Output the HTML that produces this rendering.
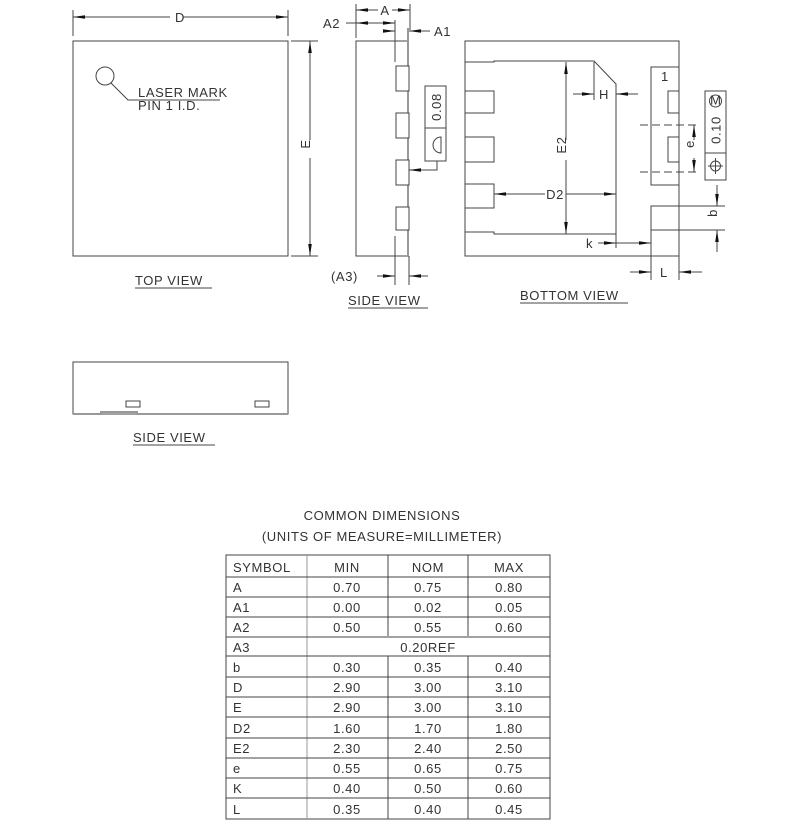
<!DOCTYPE html>
<html><head><meta charset="utf-8"><style>
html,body{margin:0;padding:0;background:#fff}
svg{display:block}
text{font-family:"Liberation Sans",sans-serif;fill:#333;font-size:13px;letter-spacing:0.6px}
</style></head><body>
<svg width="808" height="829" viewBox="0 0 808 829" xmlns="http://www.w3.org/2000/svg">
<defs>
<marker id="ar" markerWidth="12" markerHeight="6" refX="12" refY="3" orient="auto" markerUnits="userSpaceOnUse"><path d="M0,1.2 L12,3 L0,4.8z" fill="#111"/></marker>
</defs>
<g stroke="#444" stroke-width="1" fill="none">
<rect x="73" y="41" width="215" height="215"/>
<line x1="73" y1="10" x2="73" y2="36"/><line x1="288" y1="10" x2="288" y2="36"/>
<line x1="170" y1="17" x2="73" y2="17" marker-end="url(#ar)"/>
<line x1="183" y1="17" x2="288" y2="17" marker-end="url(#ar)"/>
<line x1="291" y1="41" x2="318" y2="41"/><line x1="291" y1="256" x2="318" y2="256"/>
<line x1="310" y1="140" x2="310" y2="41" marker-end="url(#ar)"/>
<line x1="310" y1="158" x2="310" y2="256" marker-end="url(#ar)"/>
<circle cx="105" cy="76" r="9"/>
<polyline points="111,83 128,100 220,100"/>
<line x1="135" y1="288" x2="212" y2="288"/>

<rect x="356" y="41" width="52" height="215"/>
<line x1="408" y1="28" x2="408" y2="256" stroke="#999" stroke-width="2"/>
<rect x="396" y="66" width="13" height="25" fill="#fff"/>
<rect x="396" y="113" width="13" height="25" fill="#fff"/>
<rect x="396" y="160" width="13" height="25" fill="#fff"/>
<rect x="396" y="207" width="13" height="23" fill="#fff"/>
<line x1="356" y1="4" x2="356" y2="38"/><line x1="410" y1="4" x2="410" y2="30"/>
<line x1="378" y1="10" x2="356" y2="10" marker-end="url(#ar)"/>
<line x1="392" y1="10" x2="410" y2="10" marker-end="url(#ar)"/>
<line x1="346" y1="23" x2="356" y2="23"/>
<line x1="375" y1="23" x2="356" y2="23" marker-end="url(#ar)"/>
<line x1="375" y1="23" x2="395" y2="23" marker-end="url(#ar)"/>
<line x1="395" y1="20" x2="395" y2="62"/>
<line x1="395" y1="31" x2="384" y2="31"/>
<line x1="384" y1="31" x2="395" y2="31" marker-end="url(#ar)"/>
<line x1="430" y1="31" x2="409" y2="31" marker-end="url(#ar)"/>
<rect x="425" y="86" width="21" height="75"/><line x1="425" y1="128" x2="446" y2="128"/>
<path d="M441,137 A8,8 0 0 0 441,153 Z"/>
<polyline points="437,161 437,170 420,170"/>
<line x1="420" y1="170" x2="409" y2="170" marker-end="url(#ar)"/>
<line x1="395" y1="236" x2="395" y2="285"/><line x1="409" y1="256" x2="409" y2="285"/>
<line x1="377" y1="276" x2="395" y2="276" marker-end="url(#ar)"/>
<line x1="428" y1="276" x2="409" y2="276" marker-end="url(#ar)"/>
<line x1="348" y1="308" x2="428" y2="308"/>

<rect x="465" y="41" width="214" height="215"/>
<polyline points="465,62 494,62 494,61 594,61 616,84 616,234 494,234 494,232 465,232"/>
<rect x="465" y="91" width="29" height="22"/>
<rect x="465" y="137" width="29" height="25"/>
<rect x="465" y="184" width="29" height="24"/>
<rect x="651" y="67" width="28" height="118"/>
<polyline points="679,91 668,91 668,113 679,113"/>
<polyline points="679,137 668,137 668,162 679,162"/>
<rect x="651" y="206" width="28" height="24"/>
<line x1="566" y1="140" x2="566" y2="62" marker-end="url(#ar)"/>
<line x1="566" y1="160" x2="566" y2="234" marker-end="url(#ar)"/>
<line x1="545" y1="194" x2="494" y2="194" marker-end="url(#ar)"/>
<line x1="566" y1="194" x2="616" y2="194" marker-end="url(#ar)"/>
<line x1="594" y1="62" x2="594" y2="100"/>
<line x1="573" y1="94" x2="594" y2="94" marker-end="url(#ar)"/>
<line x1="638" y1="94" x2="616" y2="94" marker-end="url(#ar)"/>
<line x1="616" y1="234" x2="616" y2="248"/>
<line x1="651" y1="230" x2="651" y2="280"/>
<line x1="598" y1="243" x2="616" y2="243" marker-end="url(#ar)"/>
<line x1="616" y1="243" x2="629" y2="243"/>
<line x1="629" y1="243" x2="651" y2="243" marker-end="url(#ar)"/>
<line x1="679" y1="256" x2="679" y2="280"/>
<line x1="630" y1="272" x2="651" y2="272" marker-end="url(#ar)"/>
<line x1="702" y1="272" x2="679" y2="272" marker-end="url(#ar)"/>
<line x1="640" y1="125" x2="697" y2="125" stroke-dasharray="8,4"/>
<line x1="640" y1="172" x2="697" y2="172" stroke-dasharray="8,4"/>
<line x1="694" y1="140" x2="694" y2="125" marker-end="url(#ar)"/>
<line x1="694" y1="158" x2="694" y2="172" marker-end="url(#ar)"/>
<rect x="705" y="91" width="21" height="89"/><line x1="705" y1="153" x2="726" y2="153"/>
<circle cx="715.5" cy="166" r="5"/><line x1="715.5" y1="158" x2="715.5" y2="174"/><line x1="708" y1="166" x2="723" y2="166"/>
<circle cx="715.5" cy="101" r="6"/>
<line x1="679" y1="206" x2="725" y2="206"/><line x1="679" y1="230" x2="725" y2="230"/>
<line x1="717" y1="185" x2="717" y2="206" marker-end="url(#ar)"/>
<line x1="717" y1="252" x2="717" y2="230" marker-end="url(#ar)"/>
<line x1="520" y1="303" x2="628" y2="303"/>

<rect x="73" y="362" width="215" height="52"/>
<polyline points="73,414 101,414 101,412 137,412 137,414 288,414" stroke="#999" stroke-width="2"/>
<rect x="126" y="401" width="14" height="6"/>
<rect x="255" y="401" width="14" height="6"/>
<line x1="133" y1="445" x2="215" y2="445"/>

<rect x="226" y="555" width="324" height="264"/>
<line x1="307" y1="555" x2="307" y2="819" stroke="#999"/>
<line x1="388" y1="555" x2="388" y2="636"/>
<line x1="388" y1="656" x2="388" y2="819"/>
<line x1="468" y1="555" x2="468" y2="636"/>
<line x1="468" y1="656" x2="468" y2="819"/>
<g>
<line x1="226" y1="577" x2="550" y2="577"/><line x1="226" y1="597" x2="550" y2="597"/>
<line x1="226" y1="617" x2="550" y2="617"/><line x1="226" y1="637" x2="550" y2="637"/>
<line x1="226" y1="656" x2="550" y2="656"/><line x1="226" y1="677" x2="550" y2="677"/>
<line x1="226" y1="697" x2="550" y2="697"/><line x1="226" y1="717" x2="550" y2="717"/>
<line x1="226" y1="738" x2="550" y2="738"/><line x1="226" y1="758" x2="550" y2="758"/>
<line x1="226" y1="778" x2="550" y2="778"/><line x1="226" y1="798" x2="550" y2="798"/>
</g>
</g>

<g>
<text x="180" y="22" text-anchor="middle" font-size="14">D</text>
<text x="315" y="149" transform="rotate(-90 310 149)" font-size="14" text-anchor="middle">E</text>
<text x="138" y="97" font-size="12">LASER MARK</text>
<text x="138" y="110" font-size="12">PIN 1 I.D.</text>
<text x="135" y="285" font-size="13">TOP  VIEW</text>
<text x="385" y="15" text-anchor="middle" font-size="14">A</text>
<text x="323" y="28" font-size="14">A2</text>
<text x="434" y="36" font-size="14">A1</text>
<text x="436" y="107" transform="rotate(-90 436 107)" text-anchor="middle" font-size="14" dy="5">0.08</text>
<text x="331" y="281" font-size="14">(A3)</text>
<text x="348" y="305" font-size="13">SIDE  VIEW</text>
<text x="571" y="150" transform="rotate(-90 566 150)" text-anchor="middle" font-size="14">E2</text>
<text x="555" y="199" text-anchor="middle" font-size="14">D2</text>
<text x="599" y="99" font-size="14">H</text>
<text x="586" y="248" font-size="14">k</text>
<text x="660" y="277" font-size="14">L</text>
<text x="661" y="81" font-size="12">1</text>
<text x="699" y="149" transform="rotate(-90 694 149)" text-anchor="middle" font-size="14">e</text>
<text x="715.5" y="130" transform="rotate(-90 715.5 130)" text-anchor="middle" font-size="14" dy="5">0.10</text>
<text x="715.5" y="104.5" text-anchor="middle" font-size="8" style="letter-spacing:0">M</text>
<text x="722" y="218" transform="rotate(-90 717 218)" text-anchor="middle" font-size="14">b</text>
<text x="520" y="300" font-size="13">BOTTOM  VIEW</text>
<text x="133" y="442" font-size="13">SIDE  VIEW</text>
<text x="382" y="520" text-anchor="middle" font-size="14">COMMON  DIMENSIONS</text>
<text x="382" y="541" text-anchor="middle" font-size="14">(UNITS  OF  MEASURE=MILLIMETER)</text>
</g>
<g font-size="13">
<text x="233" y="572">SYMBOL</text><text x="347" y="572" text-anchor="middle">MIN</text><text x="428" y="572" text-anchor="middle">NOM</text><text x="509" y="572" text-anchor="middle">MAX</text>
<text x="233" y="592">A</text><text x="347" y="592" text-anchor="middle">0.70</text><text x="428" y="592" text-anchor="middle">0.75</text><text x="509" y="592" text-anchor="middle">0.80</text>
<text x="233" y="612">A1</text><text x="347" y="612" text-anchor="middle">0.00</text><text x="428" y="612" text-anchor="middle">0.02</text><text x="509" y="612" text-anchor="middle">0.05</text>
<text x="233" y="632">A2</text><text x="347" y="632" text-anchor="middle">0.50</text><text x="428" y="632" text-anchor="middle">0.55</text><text x="509" y="632" text-anchor="middle">0.60</text>
<text x="233" y="652">A3</text><text x="428" y="652" text-anchor="middle">0.20REF</text>
<text x="233" y="672">b</text><text x="347" y="672" text-anchor="middle">0.30</text><text x="428" y="672" text-anchor="middle">0.35</text><text x="509" y="672" text-anchor="middle">0.40</text>
<text x="233" y="692">D</text><text x="347" y="692" text-anchor="middle">2.90</text><text x="428" y="692" text-anchor="middle">3.00</text><text x="509" y="692" text-anchor="middle">3.10</text>
<text x="233" y="712">E</text><text x="347" y="712" text-anchor="middle">2.90</text><text x="428" y="712" text-anchor="middle">3.00</text><text x="509" y="712" text-anchor="middle">3.10</text>
<text x="233" y="733">D2</text><text x="347" y="733" text-anchor="middle">1.60</text><text x="428" y="733" text-anchor="middle">1.70</text><text x="509" y="733" text-anchor="middle">1.80</text>
<text x="233" y="753">E2</text><text x="347" y="753" text-anchor="middle">2.30</text><text x="428" y="753" text-anchor="middle">2.40</text><text x="509" y="753" text-anchor="middle">2.50</text>
<text x="233" y="773">e</text><text x="347" y="773" text-anchor="middle">0.55</text><text x="428" y="773" text-anchor="middle">0.65</text><text x="509" y="773" text-anchor="middle">0.75</text>
<text x="233" y="793">K</text><text x="347" y="793" text-anchor="middle">0.40</text><text x="428" y="793" text-anchor="middle">0.50</text><text x="509" y="793" text-anchor="middle">0.60</text>
<text x="233" y="814">L</text><text x="347" y="814" text-anchor="middle">0.35</text><text x="428" y="814" text-anchor="middle">0.40</text><text x="509" y="814" text-anchor="middle">0.45</text>
</g>
</svg>
</body></html>
